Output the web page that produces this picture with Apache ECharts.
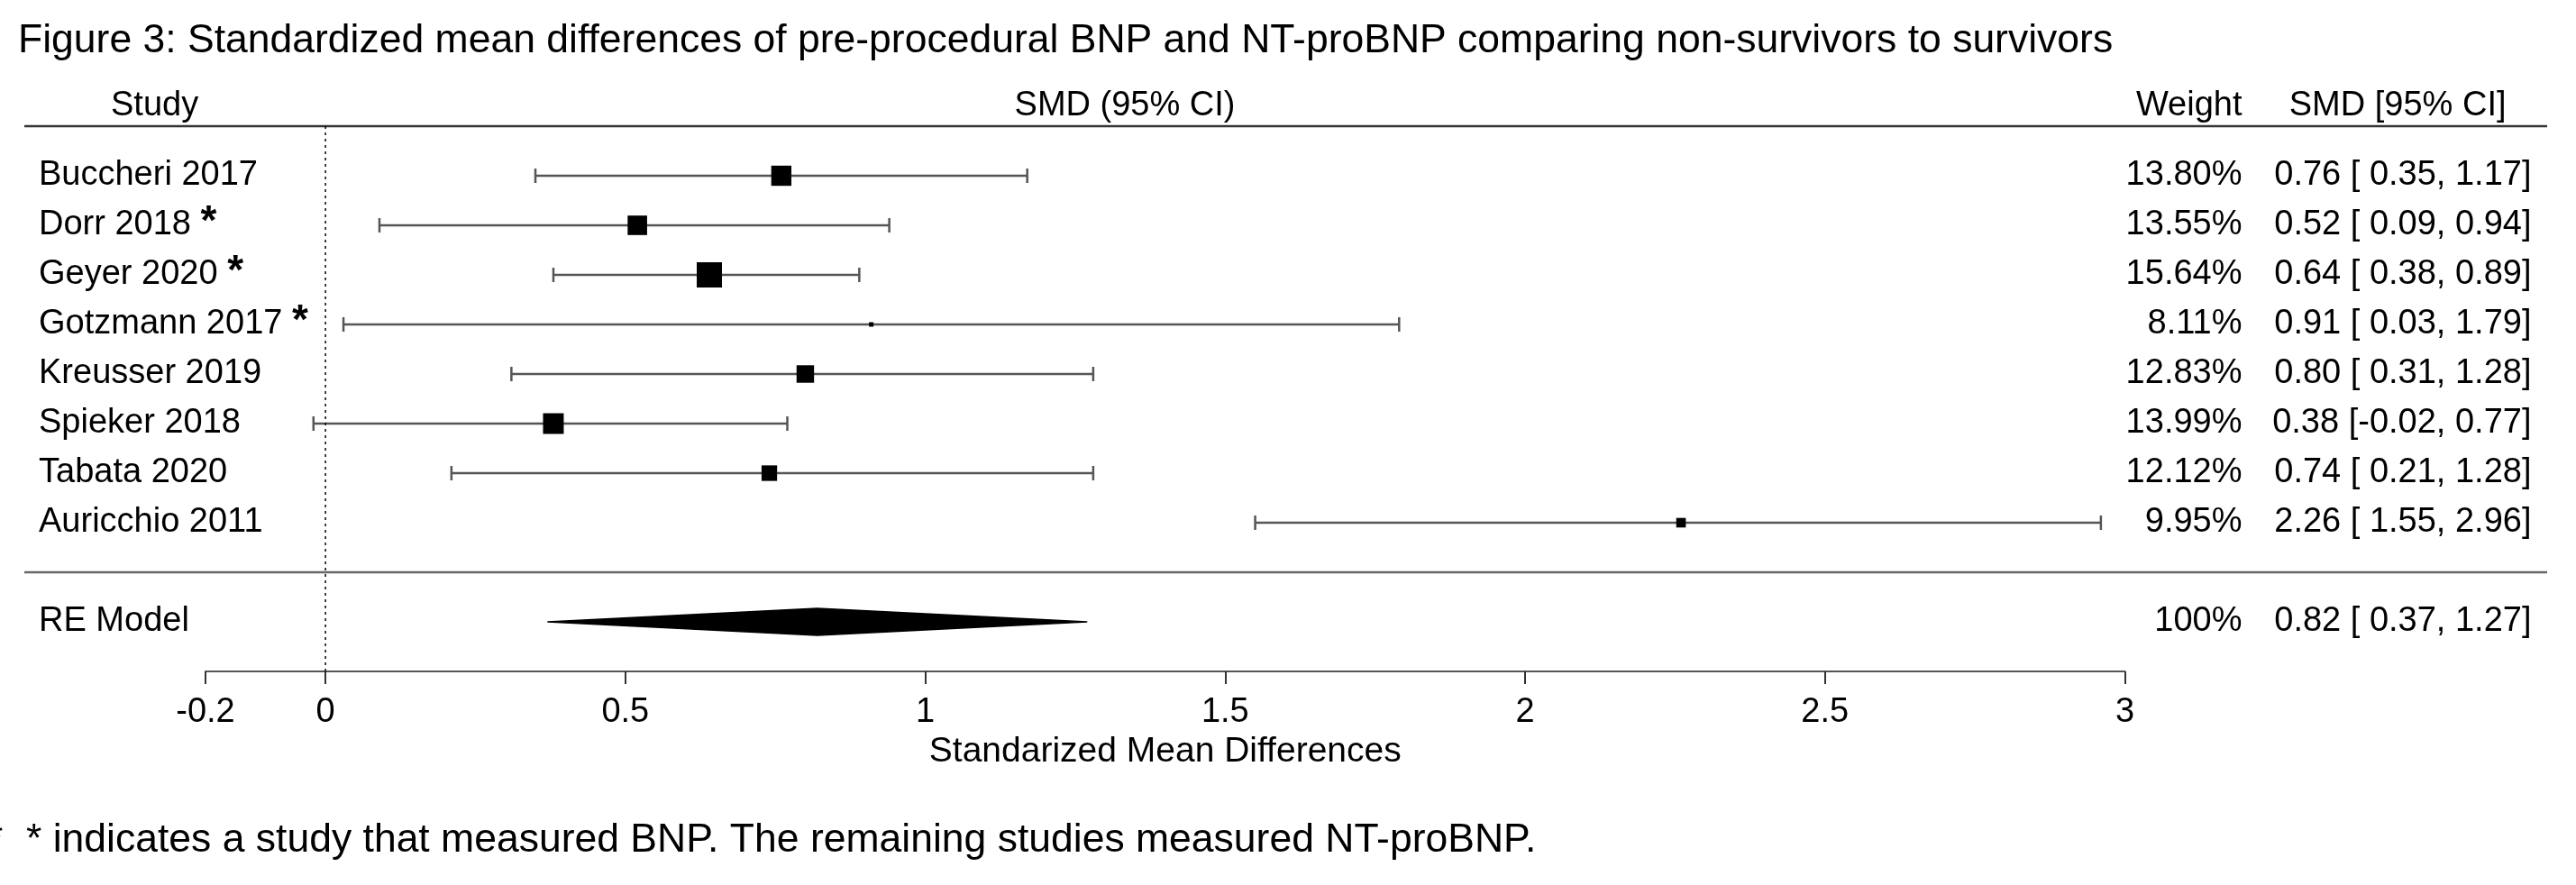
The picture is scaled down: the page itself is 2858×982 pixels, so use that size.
<!DOCTYPE html>
<html>
<head>
<meta charset="utf-8">
<script src="https://cdn.jsdelivr.net/npm/echarts@6/dist/echarts.min.js"></script>
<style>
html,body{margin:0;padding:0;background:#fff;}
#chart{width:2858px;height:982px;}
</style>
</head>
<body>
<div id="chart"></div>
<script>
// ---- data ----
const studies = ['Buccheri 2017','Dorr 2018','Geyer 2020','Gotzmann 2017','Kreusser 2019','Spieker 2018','Tabata 2020','Auricchio 2011'];
const measuredBNP = [false, true, true, true, false, false, false, false];
const smd = [0.76, 0.52, 0.64, 0.91, 0.80, 0.38, 0.74, 2.26];
const ciLow = [0.35, 0.09, 0.38, 0.03, 0.31, -0.02, 0.21, 1.55];
const ciHigh = [1.17, 0.94, 0.89, 1.79, 1.28, 0.77, 1.28, 2.96];
const weights = [13.80, 13.55, 15.64, 8.11, 12.83, 13.99, 12.12, 9.95];
const summaryLabel = 'RE Model';
const summaryEst = 0.82;
const summaryLow = 0.37;
const summaryHigh = 1.27;
const summaryWeight = '100%';
const xTicks = [-0.2, 0, 0.5, 1, 1.5, 2, 2.5, 3];
const titleText = 'Figure 3: Standardized mean differences of pre-procedural BNP and NT-proBNP comparing non-survivors to survivors';
const headers = {study: 'Study', effect: 'SMD (95% CI)', weight: 'Weight', ci: 'SMD [95% CI]'};
const xAxisTitle = 'Standarized Mean Differences';
const footnote = '* indicates a study that measured BNP. The remaining studies measured NT-proBNP.';

// ---- layout helpers ----
const FONT = "'Liberation Sans', Arial, sans-serif";
const FS = 38;
const BIG = 44.5;
const k = studies.length;
const rows = studies.map((s, i) => k - i);       // 8..1
const summaryRow = -1;
const headerRow = 9.4;
const topLineRow = k + 1;
const sepRow = 0;
const ruleFrom = -0.502, ruleTo = 3.704;   // horizontal extent of table rules (axis units)

function fmtCI(e, lo, hi) {
  return e.toFixed(2) + ' [' + (lo < 0 ? '' : ' ') + lo.toFixed(2) + ', ' + hi.toFixed(2) + ']';
}
const rowKey = v => Math.round(v * 100);
const leftLabels = {}, weightLabels = {}, ciLabels = {};
rows.forEach((r, i) => {
  leftLabels[rowKey(r)] = studies[i] + (measuredBNP[i] ? ' {star|*}' : '');
  weightLabels[rowKey(r)] = weights[i].toFixed(2) + '%';
  ciLabels[rowKey(r)] = fmtCI(smd[i], ciLow[i], ciHigh[i]);
});
leftLabels[rowKey(summaryRow)] = summaryLabel;
weightLabels[rowKey(summaryRow)] = summaryWeight;
ciLabels[rowKey(summaryRow)] = fmtCI(summaryEst, summaryLow, summaryHigh);
leftLabels[rowKey(headerRow)] = '{hs|' + headers.study + '}';
weightLabels[rowKey(headerRow)] = headers.weight;
ciLabels[rowKey(headerRow)] = '{hc|' + headers.ci + '}';
const labelRows = [headerRow].concat(rows, [summaryRow]);

const wMin = Math.min(...weights), wMax = Math.max(...weights);
const sqSize = w => 5 + (w - wMin) / (wMax - wMin) * 23;

const ciData = rows.map((r, i) => [ciLow[i], ciHigh[i], r]);
const pointData = rows.map((r, i) => [smd[i], r, weights[i]]);
const ruleData = [[ruleFrom, ruleTo, topLineRow, 0], [ruleFrom, ruleTo, sepRow, 1]];

const chart = echarts.init(document.getElementById('chart'), null, {renderer: 'canvas'});

const yBase = {
  type: 'value', min: -2, max: 10,
  axisLine: {show: false}, axisTick: {show: false}, splitLine: {show: false}
};

chart.setOption({
  animation: false,
  backgroundColor: '#fff',
  textStyle: {fontFamily: FONT},
  title: {
    text: titleText, left: 15, top: 18,
    textStyle: {fontFamily: FONT, fontSize: BIG, fontWeight: 'normal', color: '#000'}
  },
  grid: {left: 228, right: 500.5, top: 85, bottom: 237, containLabel: false},
  xAxis: {
    type: 'value', min: -0.2, max: 3,
    axisLine: {show: true, onZero: false, lineStyle: {color: '#555', width: 2}},
    axisTick: {show: true, customValues: xTicks, length: 14, lineStyle: {color: '#333', width: 2}},
    axisLabel: {show: true, customValues: xTicks, margin: 27, fontSize: FS, color: '#000', fontFamily: FONT},
    splitLine: {show: false},
    name: xAxisTitle, nameLocation: 'middle', nameGap: 67,
    nameTextStyle: {fontSize: 39, color: '#000', fontFamily: FONT}
  },
  yAxis: [
    Object.assign({}, yBase, {
      position: 'left',
      axisLabel: {
        customValues: labelRows, align: 'left', margin: 185, fontSize: FS, color: '#000', fontFamily: FONT,
        formatter: v => leftLabels[rowKey(v)] || '',
        rich: {
          star: {fontSize: 46, fontWeight: 'bold', color: '#000', fontFamily: FONT, padding: [0, 0, 6, 0]},
          hs: {fontSize: FS, color: '#000', fontFamily: FONT, padding: [0, 0, 0, 80]}
        }
      }
    }),
    Object.assign({}, yBase, {
      position: 'right',
      axisLabel: {
        customValues: labelRows, align: 'right', margin: 130, fontSize: FS, color: '#000', fontFamily: FONT,
        formatter: v => weightLabels[rowKey(v)] || ''
      }
    }),
    Object.assign({}, yBase, {
      position: 'right',
      axisLabel: {
        customValues: labelRows, align: 'right', margin: 451, fontSize: FS, color: '#000', fontFamily: FONT,
        formatter: v => ciLabels[rowKey(v)] || '',
        rich: {hc: {fontSize: FS, color: '#000', fontFamily: FONT, padding: [0, 28, 0, 0]}}
      }
    })
  ],
  graphic: [
    {type: 'text', x: 1248, y: 118, style: {text: headers.effect, font: FS + 'px ' + FONT, fill: '#000', align: 'center', verticalAlign: 'middle'}},
    {type: 'text', x: 29, y: 933, style: {text: footnote, font: BIG + 'px ' + FONT, fill: '#000', align: 'left', verticalAlign: 'middle'}},
    {type: 'text', x: -14, y: 933, style: {text: '*', font: BIG + 'px ' + FONT, fill: '#000', align: 'left', verticalAlign: 'middle'}}
  ],
  series: [
    // header and separator rules
    {type: 'custom', data: ruleData, silent: true, clip: false,
     renderItem: (params, api) => {
       const a = api.coord([api.value(0), api.value(2)]);
       const b = api.coord([api.value(1), api.value(2)]);
       return {type: 'line', shape: {x1: a[0], y1: a[1], x2: b[0], y2: b[1]},
               style: {stroke: api.value(3) === 0 ? '#333' : '#666', lineWidth: 2.5}};
     }},
    // null line
    {type: 'line', data: [[0, -2], [0, topLineRow]], symbol: 'none', silent: true,
     lineStyle: {color: '#000', width: 1.5, type: [3, 4]}},
    // confidence intervals
    {type: 'custom', data: ciData, silent: true,
     renderItem: (params, api) => {
       const a = api.coord([api.value(0), api.value(2)]);
       const b = api.coord([api.value(1), api.value(2)]);
       const st = {stroke: '#555', lineWidth: 2.5};
       return {type: 'group', children: [
         {type: 'line', shape: {x1: a[0], y1: a[1], x2: b[0], y2: b[1]}, style: st},
         {type: 'line', shape: {x1: a[0], y1: a[1] - 8, x2: a[0], y2: a[1] + 8}, style: st},
         {type: 'line', shape: {x1: b[0], y1: b[1] - 8, x2: b[0], y2: b[1] + 8}, style: st}
       ]};
     }},
    // point estimates
    {type: 'scatter', data: pointData, symbol: 'rect', silent: true,
     symbolSize: v => sqSize(v[2]), itemStyle: {color: '#000', opacity: 1}},
    // summary diamond
    {type: 'custom', data: [[summaryLow, summaryEst, summaryHigh, summaryRow]], silent: true,
     renderItem: (params, api) => {
       const r = api.value(3);
       const p1 = api.coord([api.value(0), r]);
       const p2 = api.coord([api.value(1), r]);
       const p3 = api.coord([api.value(2), r]);
       const h = 15;
       return {type: 'polygon', shape: {points: [p1, [p2[0], p2[1] - h], p3, [p2[0], p2[1] + h]]},
               style: {fill: '#000', stroke: '#000', lineWidth: 1.5}};
     }}
  ]
});
</script>
</body>
</html>
